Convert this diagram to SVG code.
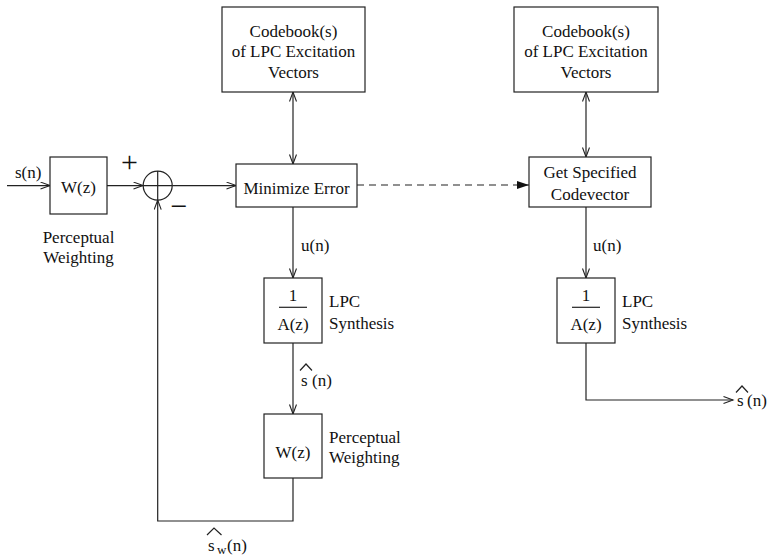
<svg xmlns="http://www.w3.org/2000/svg" width="768" height="556" viewBox="0 0 768 556">
<style>
.box{fill:#fff;stroke:#222;stroke-width:1.2}
.ln{fill:none;stroke:#222;stroke-width:1.2}
text{font-family:"Liberation Serif","Times New Roman",serif;font-size:17px;fill:#111}
.c{text-anchor:middle}
.big{font-size:30px}
</style>
<defs>
<marker id="a" markerWidth="12" markerHeight="10" refX="10" refY="4" orient="auto-start-reverse" markerUnits="userSpaceOnUse">
<path d="M0.5,0.5 L10,4 L0.5,7.5" fill="none" stroke="#222" stroke-width="1.1"/>
</marker>
<marker id="f" markerWidth="13" markerHeight="10" refX="12" refY="4.5" orient="auto" markerUnits="userSpaceOnUse">
<path d="M0,0.5 L12,4.5 L0,8.5 Z" fill="#111"/>
</marker>
</defs>

<g id="connectors">
<path class="ln" d="M7,185.6 H50" marker-end="url(#a)"/>
<path class="ln" d="M107,185.6 H143" marker-end="url(#a)"/>
<path class="ln" d="M172.2,185.6 H236" marker-end="url(#a)"/>
<path class="ln" d="M293,92 V164" marker-start="url(#a)" marker-end="url(#a)"/>
<path class="ln" d="M357,185 H529" stroke-dasharray="7,5" marker-end="url(#f)"/>
<path class="ln" d="M586,92 V157" marker-start="url(#a)" marker-end="url(#a)"/>
<path class="ln" d="M293,207 V278" marker-end="url(#a)"/>
<path class="ln" d="M293,343 V414" marker-end="url(#a)"/>
<path class="ln" d="M293,478 V521 H157.7 V200.1" marker-end="url(#a)"/>
<path class="ln" d="M586,207 V278" marker-end="url(#a)"/>
<path class="ln" d="M586,343 V400 H733" marker-end="url(#a)"/>
</g>

<g id="labels">
<text x="15" y="178">s(n)</text>
<text x="129.5" y="172" class="c big">+</text>
<text x="179" y="216" class="c big">−</text>
<text x="301" y="251">u(n)</text>
<text x="593" y="251">u(n)</text>
<text x="301" y="386">s</text>
<polyline class="ln" points="300,370.5 306,364 312,370.5"/>
<text x="312" y="386">(n)</text>
<text x="737" y="406">s</text>
<polyline class="ln" points="736,392.5 742,386 748,392.5"/>
<text x="747" y="406">(n)</text>
<text x="208" y="551">s</text>
<polyline class="ln" points="207,535 214,528 221.5,535"/>
<text x="217" y="554" style="font-size:13px">w</text>
<text x="227" y="551">(n)</text>
</g>

<g id="weight1">
<rect class="box" x="50" y="157" width="57" height="57"/>
<text x="78.5" y="192.5" class="c">W(z)</text>
<text x="78.5" y="243" class="c">Perceptual</text>
<text x="78.5" y="263" class="c">Weighting</text>
</g>

<g id="sum">
<circle cx="157.7" cy="185.6" r="14.5" class="box"/>
<path class="ln" d="M143.2,185.6 H172.2 M157.7,171.1 V200.1"/>
</g>

<g id="codebook1">
<rect class="box" x="222" y="7" width="143" height="85"/>
<text x="293.5" y="37" class="c">Codebook(s)</text>
<text x="293.5" y="57" class="c">of LPC Excitation</text>
<text x="293.5" y="77.5" class="c">Vectors</text>
</g>

<g id="minimize">
<rect class="box" x="236" y="164" width="121" height="43"/>
<text x="296.5" y="194" class="c">Minimize Error</text>
</g>

<g id="synth1">
<rect class="box" x="264" y="278" width="58" height="65"/>
<text x="293" y="300.5" class="c">1</text>
<path class="ln" d="M279,307.3 H307"/>
<text x="293" y="330" class="c">A(z)</text>
<text x="329" y="307">LPC</text>
<text x="329" y="329">Synthesis</text>
</g>

<g id="weight2">
<rect class="box" x="264" y="414" width="58" height="64"/>
<text x="293" y="458" class="c">W(z)</text>
<text x="329" y="443">Perceptual</text>
<text x="329" y="463">Weighting</text>
</g>

<g id="codebook2">
<rect class="box" x="514" y="7" width="144" height="85"/>
<text x="586" y="37" class="c">Codebook(s)</text>
<text x="586" y="57" class="c">of LPC Excitation</text>
<text x="586" y="77.5" class="c">Vectors</text>
</g>

<g id="getcode">
<rect class="box" x="529" y="157" width="122" height="50"/>
<text x="590" y="178" class="c">Get Specified</text>
<text x="590" y="199.5" class="c">Codevector</text>
</g>

<g id="synth2">
<rect class="box" x="557" y="278" width="58" height="65"/>
<text x="586" y="300.5" class="c">1</text>
<path class="ln" d="M572,307.3 H600"/>
<text x="586" y="330" class="c">A(z)</text>
<text x="622" y="307">LPC</text>
<text x="622" y="329">Synthesis</text>
</g>
</svg>
